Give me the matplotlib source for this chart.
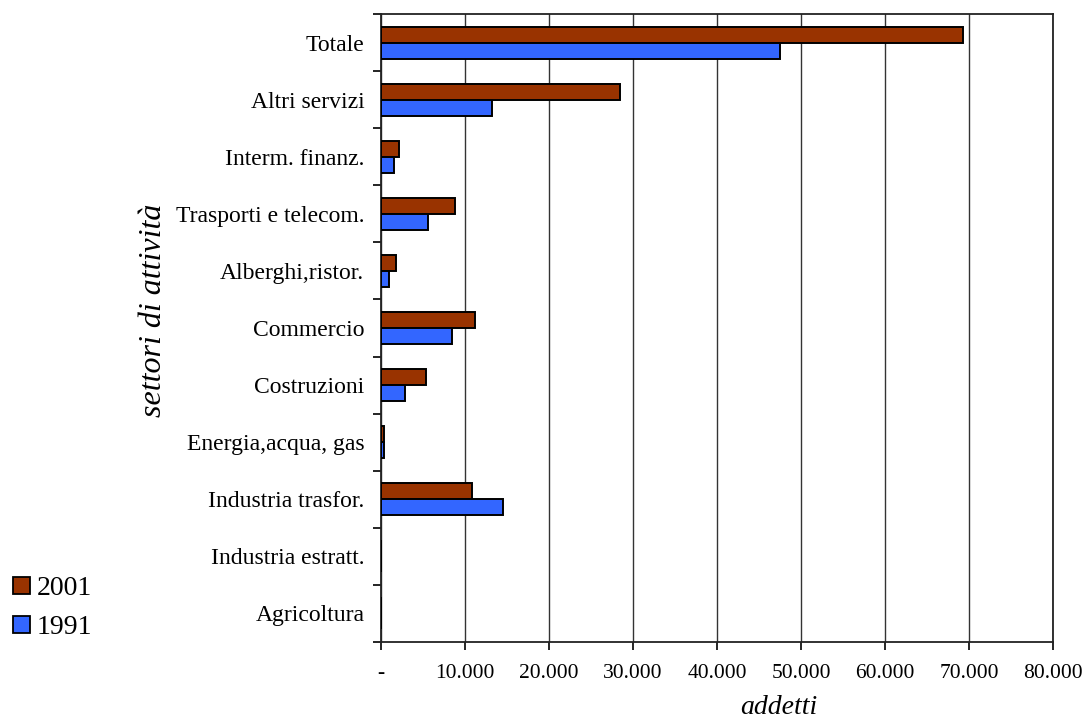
import matplotlib
matplotlib.use("Agg")
import matplotlib.pyplot as plt
import numpy as np
from matplotlib.patches import Patch
from matplotlib.ticker import FuncFormatter

categories = ["Agricoltura", "Industria estratt.", "Industria trasfor.", "Energia,acqua, gas",
              "Costruzioni", "Commercio", "Alberghi,ristor.", "Trasporti e telecom.",
              "Interm. finanz.", "Altri servizi", "Totale"]
values_2001 = [0, 0, 10800, 400, 5400, 11200, 1800, 8800, 2200, 28500, 69300]
values_1991 = [0, 0, 14500, 400, 2800, 8400, 1000, 5600, 1600, 13200, 47500]
series_names = ["2001", "1991"]
color_2001 = "#993300"
color_1991 = "#3366FF"

plt.rcParams['font.family'] = ['Liberation Serif', 'DejaVu Serif']

fig = plt.figure(figsize=(10.87, 7.21), dpi=100)
ax = fig.add_axes([381/1087, 1 - 642/721, (1053-381)/1087, (642-14)/721])

y = np.arange(len(categories))
h = 0.28
ax.barh(y + h/2, values_2001, height=h, color=color_2001, edgecolor="black", linewidth=1.4, zorder=3)
ax.barh(y - h/2, values_1991, height=h, color=color_1991, edgecolor="black", linewidth=1.4, zorder=3)

ax.set_xlim(0, 80000)
ax.set_ylim(-0.5, len(categories) - 0.5)
ax.set_xticks(np.arange(0, 80001, 10000))
ax.xaxis.set_major_formatter(FuncFormatter(lambda v, p: "-" if v == 0 else f"{int(v):,}".replace(",", ".")))
ax.xaxis.grid(True, color="#333333", linewidth=1.0, zorder=0)

# category labels centred, ticks at boundaries
ax.set_yticks(np.arange(-0.5, len(categories), 1.0))
ax.set_yticklabels([])
ax.set_yticks(y, minor=True)
ax.set_yticklabels(categories, minor=True, fontsize=17)
ax.tick_params(axis="y", which="minor", length=0, pad=12)
ax.tick_params(axis="y", which="major", length=6, width=1.2, direction="out")
ax.tick_params(axis="x", length=6, width=1.2, direction="out", labelsize=15.5, pad=10)

for s in ax.spines.values():
    s.set_linewidth(1.3)
    s.set_color("#222222")

ax.set_xlabel("addetti", fontsize=20, style="italic")
ax.xaxis.set_label_coords((779-381)/672, -(695-642)/628)
ax.set_ylabel("settori di attività", fontsize=23, style="italic")
ax.yaxis.set_label_coords((168-381)/672, 1 - (310-14)/628)

handles = [Patch(facecolor=color_2001, edgecolor="black", linewidth=1.3),
           Patch(facecolor=color_1991, edgecolor="black", linewidth=1.3)]
fig.legend(handles, series_names, loc="upper left", bbox_to_anchor=(-6/1087, 1 - 557/721),
           frameon=False, fontsize=20, handlelength=0.6, handleheight=0.6,
           handletextpad=0.25, labelspacing=0.5, borderaxespad=0.3)

fig.savefig("out.png", dpi=100)
